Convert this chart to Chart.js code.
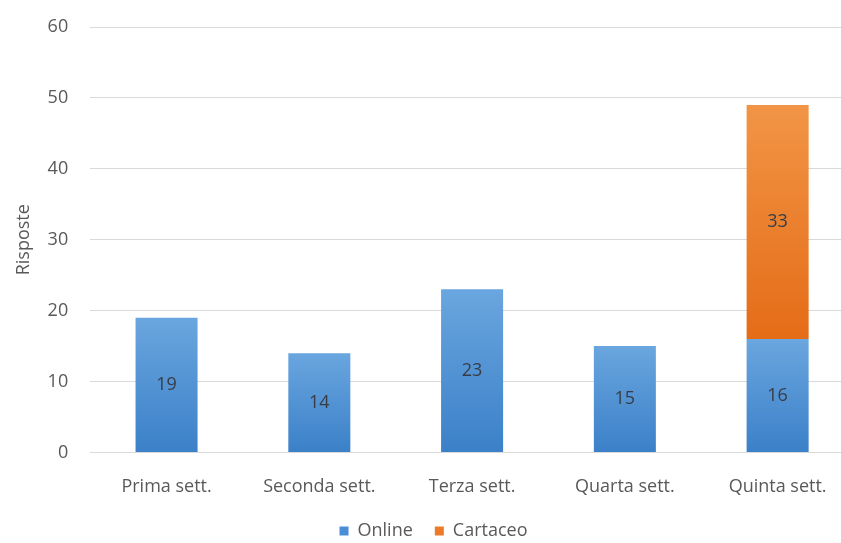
<!DOCTYPE html>
<html>
<head>
<meta charset="utf-8">
<script src="https://cdn.jsdelivr.net/npm/chart.js@4"></script>
<style>
  html, body { margin:0; padding:0; background:#fff; overflow:hidden; }
  #wrap { position:relative; width:856px; height:543px; }
</style>
</head>
<body>
<div id="wrap"><canvas id="chart"></canvas></div>
<script>
// dati
const settimane = ['Prima sett.', 'Seconda sett.', 'Terza sett.', 'Quarta sett.', 'Quinta sett.'];
const online    = [19, 14, 23, 15, 16];
const cartaceo  = [null, null, null, null, 33];
const yTicks    = [0, 10, 20, 30, 40, 50, 60];

const TXT = '#595959';
const FONT = '"Open Sans", "Noto Sans", sans-serif';

// gradiente per ogni barra (chiaro in alto, scuro in basso)
function grad(top, bottom, dsIndex){
  return (c) => {
    const chart = c.chart;
    const y = chart.scales.y;
    if(!chart.chartArea || !y || c.type !== 'data') return bottom;
    let start = 0;
    for(let k=0; k<dsIndex; k++) start += (chart.data.datasets[k].data[c.dataIndex] || 0);
    const v = chart.data.datasets[dsIndex].data[c.dataIndex] || 0;
    const y0 = y.getPixelForValue(start), y1 = y.getPixelForValue(start + v);
    if(!isFinite(y0) || !isFinite(y1) || y0 === y1) return bottom;
    const g = chart.ctx.createLinearGradient(0, y1, 0, y0);
    g.addColorStop(0, top);
    g.addColorStop(1, bottom);
    return g;
  };
}

// etichette dentro le barre
const valueLabels = {
  id:'valueLabels',
  afterDatasetsDraw(chart){
    const {ctx} = chart;
    ctx.save();
    ctx.font = '18px ' + FONT;
    ctx.fillStyle = '#383d45';
    ctx.textAlign = 'center';
    ctx.textBaseline = 'middle';
    chart.data.datasets.forEach((ds, i) => {
      chart.getDatasetMeta(i).data.forEach((bar, j) => {
        const v = ds.data[j];
        if(v == null) return;
        ctx.fillText(String(v), bar.x, (bar.y + bar.base) / 2);
      });
    });
    ctx.restore();
  }
};

// legenda un po' più vicina all'asse
const legendShift = {
  id:'legendShift',
  afterLayout(chart){
    if(chart.legend){ chart.legend.top -= 14; chart.legend.bottom -= 14; }
  }
};

new Chart(document.getElementById('chart'), {
  type:'bar',
  data:{
    labels: settimane,
    datasets:[
      { label:'Online',   data: online,   backgroundColor: grad('#6aa6df', '#3b80c8', 0), legendColor:'#4a8fd6' },
      { label:'Cartaceo', data: cartaceo, backgroundColor: grad('#f29546', '#e46c17', 1), legendColor:'#ec7a28' }
    ]
  },
  options:{
    responsive:true,
    maintainAspectRatio:false,
    animation:false,
    layout:{ padding:{ top:27, left:13, right:2, bottom:-21 } },
    datasets:{ bar:{ categoryPercentage:1, barPercentage:0.406 } },
    scales:{
      x:{
        stacked:true,
        grid:{ display:false },
        border:{ display:false },
        ticks:{ color:TXT, font:{ family:FONT, size:18 }, padding:16 }
      },
      y:{
        stacked:true,
        min:0, max:60,
        afterBuildTicks: ax => { ax.ticks = yTicks.map(v => ({ value:v })); },
        afterFit: ax => { ax.width -= 23; ax.paddingTop = 0; },
        grid:{ color:'#d9d9d9', drawTicks:false },
        border:{ display:false },
        ticks:{ color:TXT, font:{ family:FONT, size:18 }, padding:22 },
        title:{ display:true, text:'Risposte', color:TXT, font:{ family:FONT, size:18 }, padding:{ top:0, bottom:14 } }
      }
    },
    plugins:{
      legend:{
        position:'bottom',
        labels:{
          color:TXT,
          font:{ family:FONT, size:18 },
          boxWidth:9, boxHeight:9, padding:22,
          generateLabels: chart => chart.data.datasets.map((ds, i) => ({
            text: ds.label, fillStyle: ds.legendColor, strokeStyle: ds.legendColor,
            lineWidth:0, datasetIndex:i, fontColor:TXT
          }))
        }
      },
      tooltip:{ enabled:false }
    }
  },
  plugins:[valueLabels, legendShift]
});
</script>
</body>
</html>
